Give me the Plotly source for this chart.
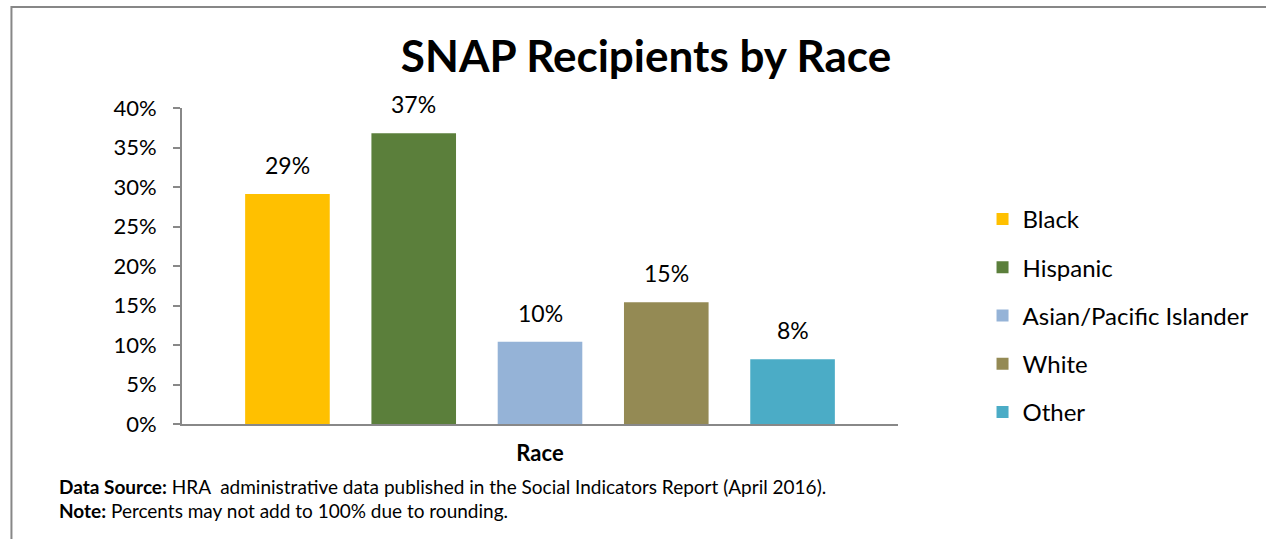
import plotly.graph_objects as go

# SNAP recipients by race (share of recipients)
races = ["Black", "Hispanic", "Asian/Pacific Islander", "White", "Other"]
shares = [0.291, 0.368, 0.104, 0.154, 0.082]
colors = ["#FFC000", "#5B7F3B", "#95B3D7", "#948A54", "#4BACC6"]

FONT = "Lato, 'Liberation Sans', sans-serif"
W, H = 1266, 539
ML, MR, MT, MB = 182, 364, 108, 115
PW, PH = W - ML - MR, H - MT - MB


def px_x(px):
    return (px - ML) / PW


def px_y(py):
    return (H - MB - py) / PH


fig = go.Figure()
for i, (name, val, col) in enumerate(zip(races, shares, colors)):
    fig.add_trace(go.Bar(
        x=[name], y=[val], name=name,
        marker=dict(color=col, line=dict(width=0)),
        width=0.67,
        legendgroup=name,
        hoverinfo="skip",
    ))
    fig.add_annotation(
        x=name, y=val, xref="x", yref="y",
        text=f"{val:.0%}", showarrow=False,
        yanchor="bottom", yshift=13,
        font=dict(family=FONT, size=23, color="#000000"),
    )

# footnotes
fig.add_annotation(
    x=px_x(56), y=px_y(486), xref="paper", yref="paper",
    xanchor="left", yanchor="middle", showarrow=False,
    text="<b>Data Source:</b> HRA  administrative data published in the Social Indicators Report (April 2016).",
    font=dict(family=FONT, size=19, color="#000000"),
)
fig.add_annotation(
    x=px_x(56), y=px_y(510), xref="paper", yref="paper",
    xanchor="left", yanchor="middle", showarrow=False,
    text="<b>Note:</b> Percents may not add to 100% due to rounding.",
    font=dict(family=FONT, size=19, color="#000000"),
)

# chart frame
fig.add_shape(
    type="rect", xref="paper", yref="paper",
    x0=px_x(10.5), x1=px_x(1300), y0=px_y(560), y1=px_y(7),
    line=dict(color="#878787", width=2), fillcolor="rgba(0,0,0,0)",
    layer="above",
)

fig.update_layout(
    width=W, height=H,
    margin=dict(l=ML, r=MR, t=MT, b=MB),
    paper_bgcolor="white", plot_bgcolor="white",
    barmode="overlay",
    font=dict(family=FONT, size=22, color="#000000"),
    title=dict(
        text="<b>SNAP Recipients by Race</b>",
        x=646 / W, xanchor="center", xref="container",
        y=1 - 57 / H, yanchor="middle", yref="container",
        font=dict(family=FONT, size=44, color="#000000"),
    ),
    showlegend=True,
    legend=dict(
        x=px_x(987), y=px_y(197), xanchor="left", yanchor="top",
        xref="paper", yref="paper",
        font=dict(family=FONT, size=24, color="#000000"),
        traceorder="grouped", tracegroupgap=14,
        bgcolor="rgba(0,0,0,0)",
    ),
    xaxis=dict(
        type="category", range=[-0.835, 4.835],
        showticklabels=False, ticks="",
        showline=True, linecolor="#888888", linewidth=2,
        showgrid=False, zeroline=False,
        title=dict(text="<b>Race</b>", standoff=21,
                   font=dict(family=FONT, size=22, color="#000000")),
        fixedrange=True,
    ),
    yaxis=dict(
        range=[0, 0.4], dtick=0.05, tickformat=".0%",
        ticks="outside", ticklen=7, tickwidth=2, tickcolor="#888888",
        showline=True, linecolor="#888888", linewidth=2,
        showgrid=False, zeroline=False,
        tickfont=dict(family=FONT, size=22, color="#000000"),
        ticklabelstandoff=12,
        fixedrange=True,
    ),
)

fig.write_html("out.html")
